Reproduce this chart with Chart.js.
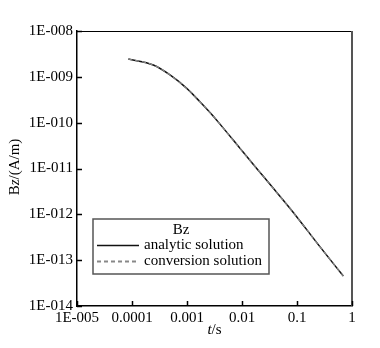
<!DOCTYPE html>
<html>
<head>
<meta charset="utf-8">
<script src="https://cdn.jsdelivr.net/npm/chart.js@4.4.1/dist/chart.umd.min.js"></script>
<style>
html,body{margin:0;padding:0;background:#fff;}
#wrap{width:380px;height:348px;}
</style>
</head>
<body>
<div id="wrap"><canvas id="c" width="380" height="348"></canvas></div>
<script>
// Data
const timeValues = [8.57e-5, 2.44e-4, 4.91e-4, 9.9e-4, 1.72e-3, 2.62e-3, 3.98e-3, 9.2e-3, 1.85e-2, 3.71e-2, 8.57e-2, 0.25, 0.695];
const analyticValues = [2.45e-9, 1.81e-9, 1.10e-9, 5.6e-10, 2.86e-10, 1.66e-10, 9.3e-11, 2.75e-11, 1.0e-11, 3.7e-12, 1.1e-12, 2.1e-13, 4.5e-14];
const conversionValues = [2.45e-9, 1.81e-9, 1.10e-9, 5.6e-10, 2.86e-10, 1.66e-10, 9.3e-11, 2.75e-11, 1.0e-11, 3.7e-12, 1.1e-12, 2.1e-13, 4.5e-14];
const xTickValues = [1e-5, 1e-4, 1e-3, 1e-2, 1e-1, 1];
const xTickLabels = ["1E-005", "0.0001", "0.001", "0.01", "0.1", "1"];
const yTickValues = [1e-14, 1e-13, 1e-12, 1e-11, 1e-10, 1e-9, 1e-8];
const yTickLabels = ["1E-014", "1E-013", "1E-012", "1E-011", "1E-010", "1E-009", "1E-008"];
const legendTitle = "Bz";

const FONT = "'Liberation Serif', 'Times New Roman', serif";
Chart.defaults.font.family = FONT;
Chart.defaults.font.size = 15;
Chart.defaults.color = '#000';

const toPts = (ys) => timeValues.map((t, i) => ({x: t, y: ys[i]}));

const decor = {
  id: 'decor',
  afterDraw(chart) {
    const ctx = chart.ctx;
    const a = chart.chartArea;
    const xs = chart.scales.x, ys = chart.scales.y;
    ctx.save();
    ctx.strokeStyle = '#000';
    ctx.lineWidth = 1.2;
    ctx.beginPath();
    ctx.moveTo(a.left, a.top + 0.5);
    ctx.lineTo(a.right, a.top + 0.5);
    ctx.stroke();
    ctx.strokeStyle = '#555';
    ctx.lineWidth = 2;
    ctx.beginPath();
    ctx.moveTo(a.right, a.top);
    ctx.lineTo(a.right, a.bottom);
    ctx.stroke();
    ctx.strokeStyle = '#000';
    ctx.lineWidth = 1.5;
    yTickValues.forEach(v => {
      const p = Math.round(ys.getPixelForValue(v)) + 0.5;
      ctx.beginPath(); ctx.moveTo(a.left, p); ctx.lineTo(a.left + 5, p); ctx.stroke();
    });
    xTickValues.forEach(v => {
      const p = Math.round(xs.getPixelForValue(v)) + 0.5;
      ctx.beginPath(); ctx.moveTo(p, a.bottom); ctx.lineTo(p, a.bottom - 5); ctx.stroke();
    });
    ctx.fillStyle = '#000';
    ctx.textBaseline = 'middle';
    const italic = 'italic 15px ' + FONT, normal = '15px ' + FONT;
    ctx.font = italic; const wt = ctx.measureText('t').width;
    ctx.font = normal; const ws = ctx.measureText('/s').width;
    const cx = (a.left + a.right) / 2;
    let sx = cx - (wt + ws) / 2;
    ctx.textAlign = 'left';
    ctx.font = italic; ctx.fillText('t', sx, 330);
    ctx.font = normal; ctx.fillText('/s', sx + wt, 330);
    ctx.save();
    ctx.translate(15, 167);
    ctx.rotate(-Math.PI / 2);
    const parts = [['B', normal], ['z', italic], ['/(A/m)', normal]];
    let tot = 0;
    parts.forEach(p => { ctx.font = p[1]; tot += ctx.measureText(p[0]).width; });
    let px = -tot / 2;
    parts.forEach(p => { ctx.font = p[1]; ctx.fillText(p[0], px, 0); px += ctx.measureText(p[0]).width; });
    ctx.restore();
    const bx = 93, by = 219, bw = 176, bh = 55;
    ctx.fillStyle = '#fff';
    ctx.fillRect(bx, by, bw, bh);
    ctx.strokeStyle = '#555';
    ctx.lineWidth = 1.5;
    ctx.strokeRect(bx, by, bw, bh);
    ctx.fillStyle = '#000';
    ctx.font = normal;
    ctx.textAlign = 'center';
    ctx.fillText(legendTitle, bx + bw / 2, 230);
    ctx.textAlign = 'left';
    const rows = [245, 261];
    chart.data.datasets.slice().reverse().forEach((ds, i) => {
      const y = rows[i] + 0.5;
      ctx.strokeStyle = ds.borderColor;
      ctx.lineWidth = ds.borderDash ? 2 : ds.borderWidth;
      ctx.setLineDash(ds.borderDash || []);
      ctx.beginPath(); ctx.moveTo(97, y); ctx.lineTo(139, y); ctx.stroke();
      ctx.setLineDash([]);
      ctx.fillStyle = '#000';
      ctx.fillText(ds.label, 144, rows[i]);
    });
    ctx.restore();
  }
};

new Chart(document.getElementById('c'), {
  type: 'line',
  data: {
    datasets: [
      {label: 'conversion solution', data: toPts(conversionValues), borderColor: '#888', borderWidth: 1.2, borderDash: [4, 3], pointRadius: 0, cubicInterpolationMode: 'monotone', fill: false},
      {label: 'analytic solution', data: toPts(analyticValues), borderColor: '#111', borderWidth: 1.5, pointRadius: 0, cubicInterpolationMode: 'monotone', fill: false}
    ]
  },
  options: {
    responsive: false,
    animation: false,
    devicePixelRatio: 1,
    layout: {padding: {left: 0, top: 31, right: 28, bottom: 0}},
    plugins: {legend: {display: false}, tooltip: {enabled: false}},
    scales: {
      x: {
        type: 'logarithmic', min: 1e-5, max: 1,
        grid: {display: false, drawTicks: false},
        border: {display: true, color: '#000', width: 1.5},
        afterBuildTicks: (s) => { s.ticks = xTickValues.map(v => ({value: v})); },
        afterFit: (s) => { s.height = 42; },
        ticks: {padding: 3, maxRotation: 0, autoSkip: false, color: '#000',
          callback: (v, i) => xTickLabels[i]}
      },
      y: {
        type: 'logarithmic', min: 1e-14, max: 1e-8,
        grid: {display: false, drawTicks: false},
        border: {display: true, color: '#000', width: 1.5},
        afterBuildTicks: (s) => { s.ticks = yTickValues.map(v => ({value: v})); },
        afterFit: (s) => { s.width = 77; },
        ticks: {padding: 4, autoSkip: false, color: '#000',
          callback: (v, i) => yTickLabels[i]}
      }
    }
  },
  plugins: [decor]
});
</script>
</body>
</html>
